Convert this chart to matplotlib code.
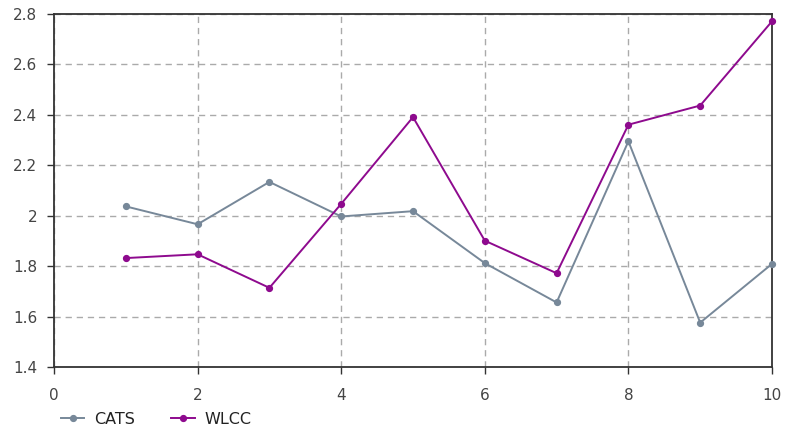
import matplotlib
matplotlib.use("Agg")
import matplotlib.pyplot as plt

# Series values per run
x_values = [1, 2, 3, 4, 5, 6, 7, 8, 9, 10]
cats = [2.037, 1.966, 2.134, 1.997, 2.018, 1.812, 1.656, 2.295, 1.576, 1.809]
wlcc = [1.832, 1.847, 1.714, 2.047, 2.391, 1.901, 1.772, 2.361, 2.437, 2.771]

series_names = ["CATS", "WLCC"]
series_colors = ["#778899", "#8e0a8e"]

x_ticks = [0, 2, 4, 6, 8, 10]
y_ticks = [1.4, 1.6, 1.8, 2.0, 2.2, 2.4, 2.6, 2.8]
y_tick_labels = ["1.4", "1.6", "1.8", "2", "2.2", "2.4", "2.6", "2.8"]

plt.rcParams["font.family"] = ["DejaVu Sans"]

W, H = 788, 437
fig = plt.figure(figsize=(W / 100, H / 100), dpi=100)
left, right, top, bottom = 54, 772, 14, 367
ax = fig.add_axes([left / W, 1 - bottom / H, (right - left) / W, (bottom - top) / H])

for ys, name, color in zip([cats, wlcc], series_names, series_colors):
    ax.plot(x_values, ys, color=color, lw=1.4, marker="o", markersize=4.2,
            label=name, clip_on=False, zorder=3)

ax.set_xlim(0, 10)
ax.set_ylim(1.4, 2.8)
ax.set_xticks(x_ticks)
ax.set_xticklabels([str(t) for t in x_ticks])
ax.set_yticks(y_ticks)
ax.set_yticklabels(y_tick_labels)

ax.grid(True, color="#aaaaaa", linestyle=(0, (4.5, 3.5)), linewidth=1.0, zorder=1)
for s in ax.spines.values():
    s.set_color("#333333")
    s.set_linewidth(1.3)

ax.tick_params(axis="both", direction="out", length=5, width=1.0, color="#333333",
               labelcolor="#444444", labelsize=11)
ax.tick_params(axis="y", pad=7)
ax.tick_params(axis="x", pad=10)

fig.legend(loc="center left", bbox_to_anchor=(61 / W, 1 - 419 / H), ncol=2,
           frameon=False, fontsize=11.5, handlelength=1.45, handletextpad=0.6,
           columnspacing=2.3, borderpad=0, borderaxespad=0, labelcolor="#222222")

fig.savefig("out.png", dpi=100)
